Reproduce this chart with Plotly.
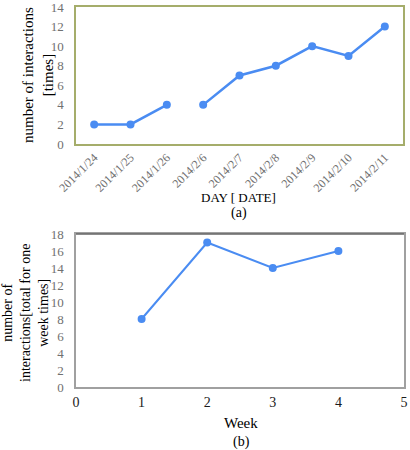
import plotly.graph_objects as go

days = ["2014/1/24", "2014/1/25", "2014/1/26", "2014/2/6", "2014/2/7",
        "2014/2/8", "2014/2/9", "2014/2/10", "2014/2/11"]
daily_values = [2, 2, 4, 4, 7, 8, 10, 9, 12]
weeks = [1, 2, 3, 4]
weekly_values = [8, 17, 14, 16]
week_ticks = [0, 1, 2, 3, 4, 5]

LINE = "#4a8cf2"
SERIF = "Liberation Serif, Times New Roman, serif"
TICKC = "#707070"

fig = go.Figure()
# daily chart: two segments (gap between 1/26 and 2/6)
fig.add_trace(go.Scatter(x=days[:3], y=daily_values[:3], mode="lines+markers",
                         line=dict(color=LINE, width=2.5), marker=dict(size=8, color=LINE),
                         xaxis="x", yaxis="y", showlegend=False, cliponaxis=False))
fig.add_trace(go.Scatter(x=days[3:], y=daily_values[3:], mode="lines+markers",
                         line=dict(color=LINE, width=2.5), marker=dict(size=8, color=LINE),
                         xaxis="x", yaxis="y", showlegend=False, cliponaxis=False))
fig.add_trace(go.Scatter(x=weeks, y=weekly_values, mode="lines+markers",
                         line=dict(color=LINE, width=2), marker=dict(size=8, color=LINE),
                         xaxis="x2", yaxis="y2", showlegend=False))

W, H = 410, 450
def fx(px): return px / W
def fy(py): return 1 - py / H

common = dict(showgrid=False, showline=True, mirror=True, ticks="", zeroline=False,
              automargin=False, ticklabeloverflow="allow", linewidth=1.5)

fig.update_layout(
    template="none",
    width=W, height=H, margin=dict(l=0, r=0, t=0, b=0, autoexpand=False),
    paper_bgcolor="white", plot_bgcolor="white",
    font=dict(family=SERIF, size=13, color="black"),
    xaxis=dict(domain=[fx(76), fx(403)], type="category", categoryorder="array",
               categoryarray=days, range=[-0.5, 8.5], tickangle=-45,
               tickfont=dict(family=SERIF, size=12, color=TICKC),
               linecolor="#a5ad6b", anchor="y", **common),
    yaxis=dict(domain=[fy(144), fy(7)], range=[0, 14], dtick=2, ticklabelstandoff=8,
               tickfont=dict(family=SERIF, size=13, color=TICKC),
               linecolor="#a5ad6b", anchor="x", **common),
    xaxis2=dict(domain=[fx(76), fx(404)], range=[0, 5], tickmode="array", tickvals=week_ticks,
                ticklabelstandoff=1,
                tickfont=dict(family=SERIF, size=14, color="#1a1a1a"),
                linecolor="#a0a0a0", anchor="y2", **common),
    yaxis2=dict(domain=[fy(387), fy(234)], range=[0, 18], dtick=2, ticklabelstandoff=8,
                tickfont=dict(family=SERIF, size=13, color=TICKC),
                linecolor="#a0a0a0", anchor="x2", **common),
    shapes=[dict(type="line", xref="x2 domain", yref="y2 domain", x0=0, x1=1, y0=1, y1=1,
                 line=dict(color="#666666", width=1.5))],
    annotations=[
        dict(text="number of interactions<br>[times]", x=fx(38), y=fy(75), xref="paper", yref="paper",
             textangle=-90, showarrow=False, font=dict(family=SERIF, size=15, color="black"),
             xanchor="center", yanchor="middle"),
        dict(text="DAY [ DATE]", x=fx(239), y=fy(197), xref="paper", yref="paper", showarrow=False,
             font=dict(family=SERIF, size=13, color="black"), xanchor="center", yanchor="middle"),
        dict(text="(a)", x=fx(239), y=fy(213), xref="paper", yref="paper", showarrow=False,
             font=dict(family=SERIF, size=14, color="black"), xanchor="center", yanchor="middle"),
        dict(text="number of<br>interactions[total for one<br>week times]", x=fx(25), y=fy(313),
             xref="paper", yref="paper", textangle=-90, showarrow=False,
             font=dict(family=SERIF, size=14, color="black"), xanchor="center", yanchor="middle"),
        dict(text="Week", x=fx(241), y=fy(423), xref="paper", yref="paper", showarrow=False,
             font=dict(family=SERIF, size=15, color="black"), xanchor="center", yanchor="middle"),
        dict(text="(b)", x=fx(241), y=fy(442), xref="paper", yref="paper", showarrow=False,
             font=dict(family=SERIF, size=14, color="black"), xanchor="center", yanchor="middle"),
    ],
)

fig.write_html("out.html", config={"displayModeBar": False},
               post_script="document.body.style.margin='0';document.body.style.overflow='hidden';")
